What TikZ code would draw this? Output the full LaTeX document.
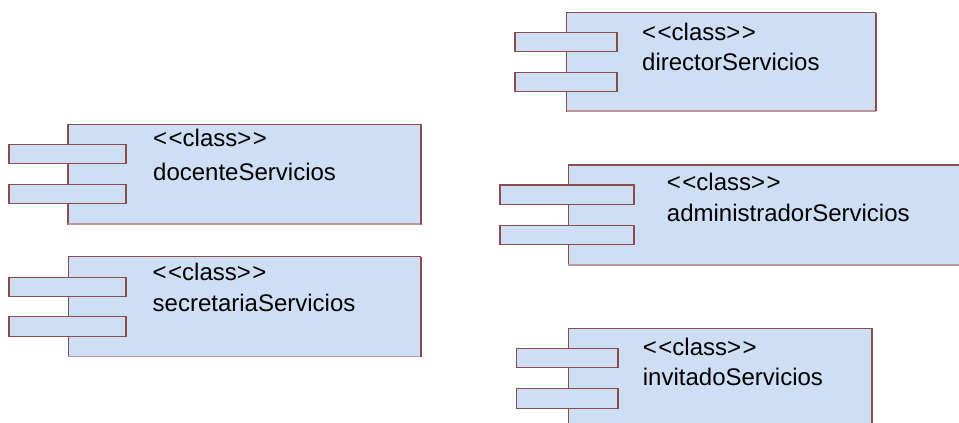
\documentclass[tikz,border=0pt]{standalone}
\usepackage{fontspec}
\setmainfont{Liberation Sans}
\definecolor{compfill}{RGB}{206,222,245}
\definecolor{compline}{RGB}{140,76,76}
\definecolor{complight}{RGB}{192,150,150}
\tikzset{
  comp/.style={draw=compline, fill=compfill, line width=1.1pt, rectangle, inner sep=0pt, outer sep=0pt, anchor=north west},
  port/.style={draw=compline, fill=compfill, line width=1.1pt, rectangle, inner sep=0pt, outer sep=0pt, anchor=north west},
  rightedge/.style={draw=compline, line width=2pt},
  botedge/.style={draw=complight, line width=1.1pt},
  lbl/.style={anchor=base west, inner sep=0pt, font=\fontsize{24pt}{28pt}\selectfont, text=black}
}
\newcommand{\component}[9]{%
  % #1 name, #2 x, #3 y, #4 w, #5 h, #6 port x, #7 port w, #8 port y1, #9 port y2
  \node[comp, minimum width=#4pt, minimum height=#5pt] (#1) at (#2,#3) {};
  \draw[botedge] (#1.south west) -- (#1.south east);
  \draw[rightedge] (#1.north east) -- (#1.south east);
  \node[port, minimum width=#7pt, minimum height=19.6pt] (#1p1) at (#6,#8) {};
  \draw[rightedge] (#1p1.north east) -- (#1p1.south east);
  \node[port, minimum width=#7pt, minimum height=19.6pt] (#1p2) at (#6,#9) {};
  \draw[rightedge] (#1p2.north east) -- (#1p2.south east);
}
\newcommand{\stereo}{<\kern1.5pt<class>\kern1.5pt>}
\begin{document}
\begin{tikzpicture}[x=1pt,y=-1pt]
\useasboundingbox (0,0) rectangle (959,423);
\fill[white] (0,0) rectangle (959,423);
% docente
\component{doc}{68}{124.5}{353}{99.5}{9}{117}{144.3}{184.3}
\node[lbl] (docs) at (153,146.7) {\stereo};
\node[lbl] (docn) at (153,180.7) {docenteServicios};
% secretaria
\component{sec}{68.3}{256.7}{352.4}{100}{9}{117}{277.3}{316.9}
\node[lbl] (secs) at (152.5,280) {\stereo};
\node[lbl] (secn) at (152.5,311.7) {secretariaServicios};
% director
\component{dir}{566.7}{12.7}{309}{98.3}{515}{102.3}{32.3}{72.3}
\node[lbl] (dirs) at (642,40) {\stereo};
\node[lbl] (dirn) at (642,70) {directorServicios};
% administrador
\component{adm}{568.3}{165}{393}{100}{500}{134.3}{185}{225.2}
\node[lbl] (adms) at (666.7,190) {\stereo};
\node[lbl] (admn) at (666.7,221.7) {administradorServicios};
% invitado
\component{inv}{568.3}{328.3}{304}{110}{516.7}{101.6}{348.3}{388.5}
\node[lbl] (invs) at (642.7,355) {\stereo};
\node[lbl] (invn) at (642.7,385) {invitadoServicios};
\end{tikzpicture}
\end{document}
